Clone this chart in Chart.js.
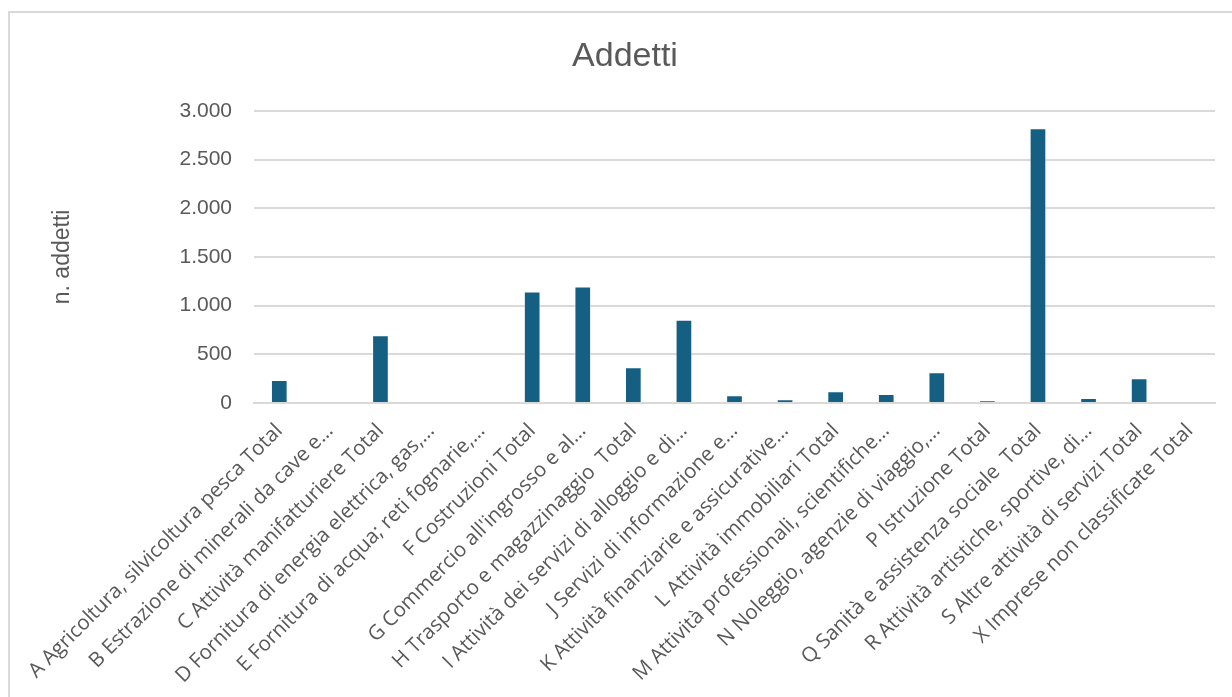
<!DOCTYPE html>
<html>
<head>
<meta charset="utf-8">
<script src="https://cdn.jsdelivr.net/npm/chart.js@4.4.1/dist/chart.umd.min.js"></script>
<style>
  html, body { margin: 0; padding: 0; background: #fff; }
  body { width: 1232px; height: 697px; overflow: hidden; position: relative; }
  #frame { position: absolute; left: 8px; top: 11px; width: 1300px; height: 800px;
           border-top: 2px solid #d9d9d9; border-left: 2px solid #d9d9d9; }
  #wrap { position: absolute; left: 0; top: 0; width: 1232px; height: 697px; }
</style>
</head>
<body>
<div id="frame"></div>
<div id="wrap"><canvas id="myChart" width="1232" height="697"></canvas></div>
<script>
var categories = [
    "A Agricoltura, silvicoltura pesca Total",
    "B Estrazione di minerali da cave e\u2026",
    "C Attivit\u00e0 manifatturiere Total",
    "D Fornitura di energia elettrica, gas,\u2026",
    "E Fornitura di acqua; reti fognarie,\u2026",
    "F Costruzioni Total",
    "G Commercio all'ingrosso e al\u2026",
    "H Trasporto e magazzinaggio  Total",
    "I Attivit\u00e0 dei servizi di alloggio e di\u2026",
    "J Servizi di informazione e\u2026",
    "K Attivit\u00e0 finanziarie e assicurative\u2026",
    "L Attivit\u00e0 immobiliari Total",
    "M Attivit\u00e0 professionali, scientifiche\u2026",
    "N Noleggio, agenzie di viaggio,\u2026",
    "P Istruzione Total",
    "Q Sanit\u00e0 e assistenza sociale  Total",
    "R Attivit\u00e0 artistiche, sportive, di\u2026",
    "S Altre attivit\u00e0 di servizi Total",
    "X Imprese non classificate Total"
];
var addetti = [235, 0, 695, 0, 0, 1145, 1195, 367, 856, 79, 38, 120, 92, 315, 28, 2820, 51, 254, 0];
var yTicks = [0, 500, 1000, 1500, 2000, 2500, 3000];

var textColor = "#595959",
    gridColor = "#d9d9d9",
    ctx = document.getElementById("myChart");

function itNumber(v){
    return String(v).replace(/\B(?=(\d{3})+(?!\d))/g, ".");
}

var myChart = new Chart(ctx, {
    type: 'bar',
    data: {
        labels: categories,
        datasets: [{
            label: 'Addetti',
            data: addetti,
            backgroundColor: '#156082',
            borderColor: 'rgba(255,255,255,0.5)',
            borderWidth: 1,
            categoryPercentage: 1,
            barPercentage: 0.33
        }]
    },
    options: {
        responsive: false,
        animation: false,
        layout: { padding: { left: 35, right: 17, top: 0, bottom: 0 } },
        plugins: {
            legend: { display: false },
            tooltip: { enabled: false },
            title: {
                display: true,
                text: 'Addetti',
                color: textColor,
                font: { family: 'Liberation Sans', size: 34, weight: 'normal', lineHeight: 1.2 },
                padding: { top: 36, bottom: 34 }
            }
        },
        scales: {
            x: {
                grid: { display: false },
                border: { color: gridColor, width: 2 },
                ticks: {
                    color: textColor,
                    font: { family: 'Open Sans', size: 20.5 },
                    maxRotation: 45,
                    minRotation: 45,
                    autoSkip: false,
                    padding: 8
                },
                afterFit: function(scale){ scale.height = 294; }
            },
            y: {
                min: 0,
                max: 3000,
                afterBuildTicks: function(scale){
                    scale.ticks = yTicks.map(function(v){ return { value: v }; });
                },
                grid: { color: gridColor, lineWidth: 2, drawTicks: false },
                border: { display: false },
                ticks: {
                    color: textColor,
                    font: { family: 'Liberation Sans', size: 21 },
                    padding: 22,
                    callback: function(v){ return itNumber(v); }
                },
                title: {
                    display: true,
                    text: 'n. addetti',
                    color: textColor,
                    font: { family: 'Liberation Sans', size: 23 },
                    padding: { top: 14, bottom: 0 }
                },
                afterFit: function(scale){ scale.width = 219; }
            }
        }
    }
});
</script>
</body>
</html>
